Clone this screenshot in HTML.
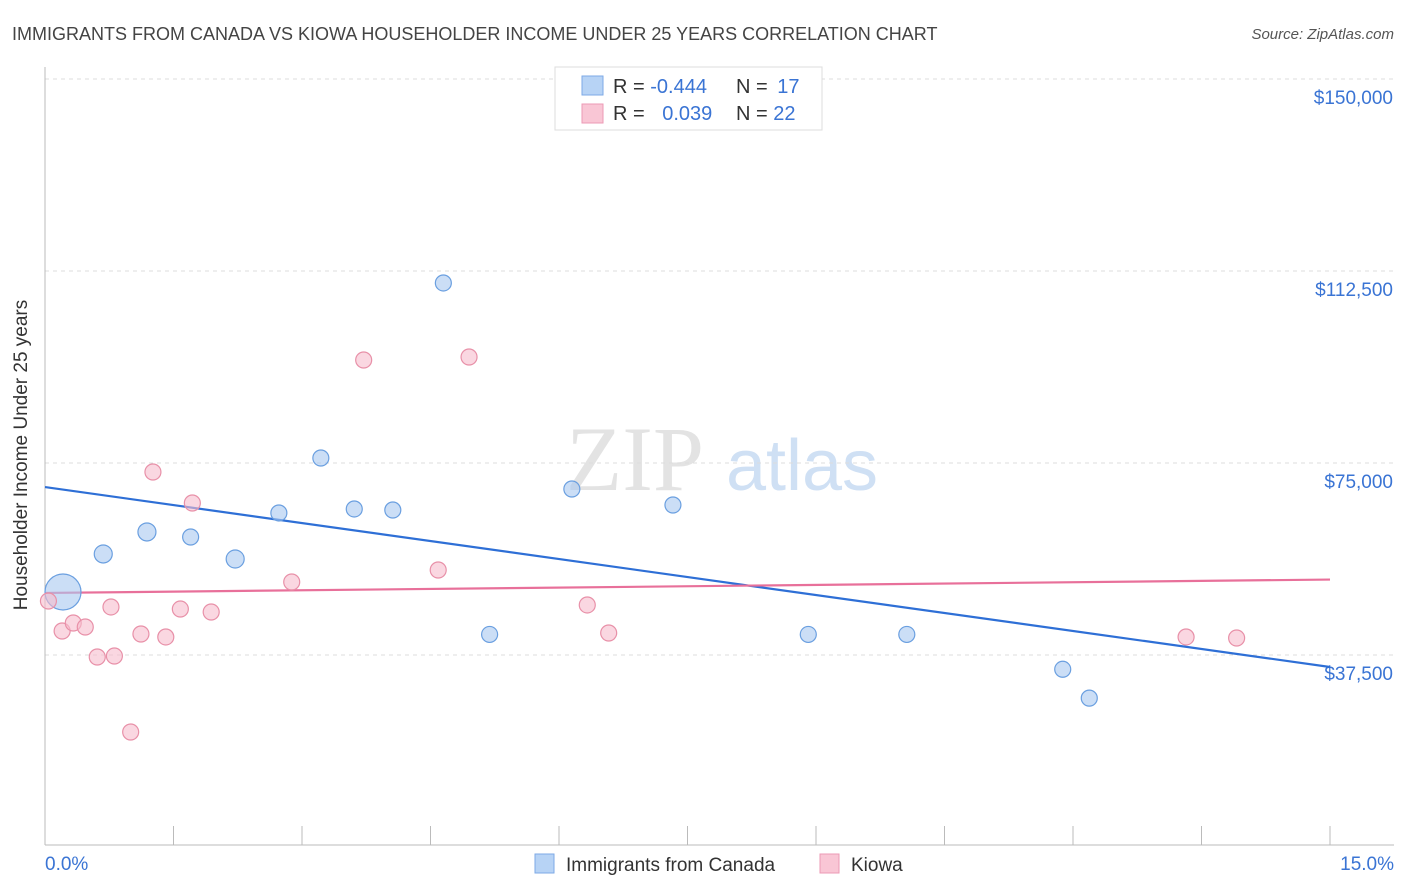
<!DOCTYPE html>
<html><head><meta charset="utf-8">
<style>
body{margin:0;background:#fff;font-family:"Liberation Sans",sans-serif;}
#wrap{position:relative;width:1406px;height:892px;overflow:hidden;}
</style></head>
<body>
<div id="wrap">
<svg id="svg" width="1406" height="892" xmlns="http://www.w3.org/2000/svg" font-family="Liberation Sans, sans-serif">
<text x="12" y="40" font-size="18" fill="#444">IMMIGRANTS FROM CANADA VS KIOWA HOUSEHOLDER INCOME UNDER 25 YEARS CORRELATION CHART</text>
<text x="1394" y="39" font-size="15" fill="#555" font-style="italic" text-anchor="end">Source: ZipAtlas.com</text>
<text x="27" y="455" font-size="19" fill="#333" text-anchor="middle" transform="rotate(-90 27 455)">Householder Income Under 25 years</text>
<g>
<text x="635" y="490" font-size="92" fill="#d8d8d8" font-family="Liberation Serif, serif" text-anchor="middle" opacity="0.7">ZIP</text>
<text x="802" y="490" font-size="72" fill="#bcd3f0" text-anchor="middle" opacity="0.7">atlas</text>
</g>
<g id="grid"></g>
<g id="axes"></g>
<g id="lines"></g>
<g id="points"></g>
<g>
<rect x="555" y="67" width="267" height="63" fill="#fff" stroke="#ddd"/>
<rect x="582" y="76" width="21" height="19" fill="#b7d3f5" stroke="#7eaae6"/>
<rect x="582" y="104" width="21" height="19" fill="#f9c6d5" stroke="#ec9ab5"/>
<text x="613" y="93" font-size="20" fill="#333">R = <tspan fill="#3a74d4">-0.444</tspan></text>
<text x="736" y="93" font-size="20" fill="#333">N = <tspan fill="#3a74d4" dx="4">17</tspan></text>
<text x="613" y="120" font-size="20" fill="#333">R = <tspan fill="#3a74d4" dx="12">0.039</tspan></text>
<text x="736" y="120" font-size="20" fill="#333">N = <tspan fill="#3a74d4">22</tspan></text>
</g>
<g>
<rect x="535" y="854" width="19" height="19" fill="#b7d3f5" stroke="#7eaae6"/>
<text x="566" y="871" font-size="19" fill="#333">Immigrants from Canada</text>
<rect x="820" y="854" width="19" height="19" fill="#f9c6d5" stroke="#ec9ab5"/>
<text x="851" y="871" font-size="19" fill="#333">Kiowa</text>
</g>
</svg>
</div>
<script>
const yTicks=[150000,112500,75000,37500];
const yTickLabels=["$150,000","$112,500","$75,000","$37,500"];
const xTickLabels=["0.0%","15.0%"];
const canadaX=[0.21,0.68,1.19,1.70,2.22,2.73,3.22,3.61,4.06,4.65,5.19,6.15,7.33,8.91,10.06,11.88,12.19];
const canadaY=[49805,57230,61530,60550,56250,65240,75980,66020,65820,110160,41520,69920,66800,41520,41520,34710,29080];
const canadaR=[18,9,9,8,9,8,8,8,8,8,8,8,8,8,8,8,8];
const kiowaX=[0.04,0.20,0.33,0.47,0.61,0.81,0.77,1.00,1.12,1.26,1.41,1.58,1.72,1.94,2.88,3.72,4.59,4.95,6.33,6.58,13.32,13.91];
const kiowaY=[48050,42190,43750,42970,37110,37300,46880,22460,41600,73240,41020,46480,67190,45900,51760,95120,54100,95700,47270,41800,41020,40820];

const NS="http://www.w3.org/2000/svg";
const X0=45,X1=1330,Y150=79,PX=192/37500;
function sx(v){return X0+(v/15)*(X1-X0);}
function sy(v){return Y150+(150000-v)*PX;}
function mk(tag,attrs,parent){const e=document.createElementNS(NS,tag);for(const k in attrs)e.setAttribute(k,attrs[k]);parent.appendChild(e);return e;}
const grid=document.getElementById('grid'),axes=document.getElementById('axes'),lines=document.getElementById('lines'),pts=document.getElementById('points');
yTicks.forEach((t,i)=>{
  const l=mk('line',{x1:45,x2:1394,y1:sy(t),y2:sy(t),stroke:'#dcdcdc','stroke-dasharray':'4 4'},grid);
  
  
  const tx=mk('text',{x:1393,y:sy(t)+25,'font-size':19,fill:'#3a74d4','text-anchor':'end'},axes);
  tx.textContent=yTickLabels[i];
  
  
});
const ya=mk('line',{x1:45,x2:45,y1:67,y2:845,stroke:'#bbb'},axes);


const xa=mk('line',{x1:45,x2:1394,y1:845,y2:845,stroke:'#bbb'},axes);


for(let i=0;i<=10;i++){
  const t=mk('line',{x1:sx(i*1.5),x2:sx(i*1.5),y1:826,y2:845,stroke:'#bbb'},axes);
  
  
}
[[0,'start',45],[15,'end',1394]].forEach((d,i)=>{
  const tx=mk('text',{x:d[2],y:870,'font-size':19,fill:'#3a74d4','text-anchor':d[1]},axes);
  tx.textContent=xTickLabels[i];
  
  
});
function fit(xs,ys){const n=xs.length;let mx=0,my=0;xs.forEach((x,i)=>{mx+=x;my+=ys[i];});mx/=n;my/=n;let sxy=0,sxx=0;xs.forEach((x,i)=>{sxy+=(x-mx)*(ys[i]-my);sxx+=(x-mx)*(x-mx);});const b=sxy/sxx;return [my-b*mx,b];}
function drawSeries(xs,ys,rs,fill,stroke,lineCol,name){
  xs.forEach((x,i)=>{
    const c=mk('circle',{cx:sx(x),cy:sy(ys[i]),r:rs?rs[i]:8,fill:fill,'fill-opacity':0.6,stroke:stroke,'stroke-width':1.2},pts);
    
    
  });
  const [a,b]=fit(xs,ys);
  const l=mk('line',{x1:sx(0),y1:sy(a),x2:sx(15),y2:sy(a+b*15),stroke:lineCol,'stroke-width':2.2},lines);
  
  
}
drawSeries(canadaX,canadaY,canadaR,'#a9c8f0','#6a9fe0','#2e6fd6','canada');
drawSeries(kiowaX,kiowaY,null,'#f7bccd','#e890a8','#e8709a','kiowa');
</script>
</body></html>
